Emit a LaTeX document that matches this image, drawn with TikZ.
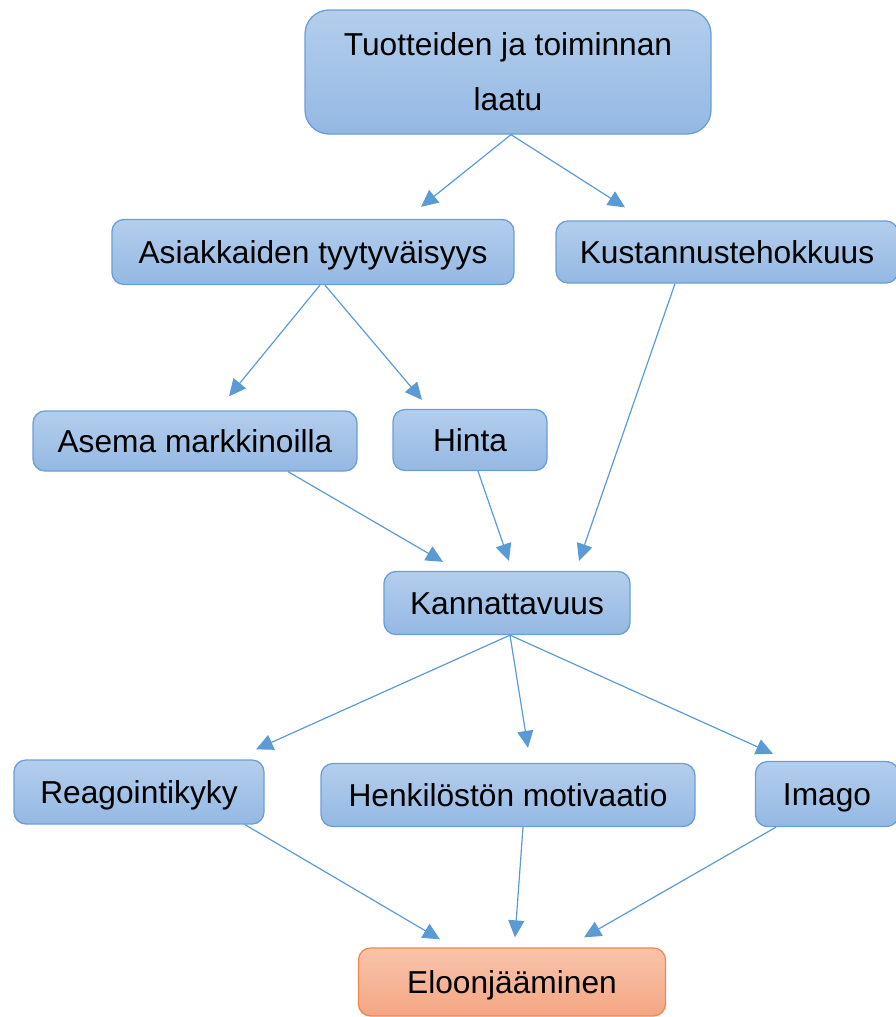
\documentclass[tikz,border=0pt]{standalone}
\usepackage{fontspec}
\setmainfont{Liberation Sans}
\usepackage{tikz}
\usetikzlibrary{arrows.meta}

\definecolor{boxtop}{HTML}{B4CEEC}
\definecolor{boxbot}{HTML}{94B8E3}
\definecolor{boxline}{HTML}{6A9FD6}
\definecolor{arrowblue}{HTML}{5B9BD5}
\definecolor{orangetop}{HTML}{F8C4AC}
\definecolor{orangebot}{HTML}{F4A683}
\definecolor{orangeline}{HTML}{EE8A4C}

\begin{document}
\begin{tikzpicture}[->,
x=1pt, y=-1pt,
>={Triangle[length=17pt, width=16pt]},
block/.style={draw=boxline, line width=1.3pt, rectangle, rounded corners=12pt, top color=boxtop, bottom color=boxbot, inner sep=0pt, align=center, font=\fontsize{31.7}{55}\selectfont},
line/.style={block, text height=22.7pt, text depth=0pt},
orangeblock/.style={line, draw=orangeline, top color=orangetop, bottom color=orangebot},
link/.style={every edge/.style={draw, arrowblue, line width=1.2pt}}]

\useasboundingbox (0,0) rectangle (896,1017);

\node[block, minimum width=406pt, minimum height=124pt, rounded corners=24pt]	(top)	at (508,72)		{Tuotteiden ja toiminnan\\laatu};

\node[line, minimum width=402pt, minimum height=65pt]		(asiak)	at (313,252)	{Asiakkaiden tyytyväisyys};
\node[line, minimum width=342pt, minimum height=62pt]		(kust)	at (727,252)	{Kustannustehokkuus};

\node[line, minimum width=324pt, minimum height=60pt]		(asema)	at (195,441)	{Asema markkinoilla};
\node[line, minimum width=154pt, minimum height=61pt]		(hinta)	at (470,440)	{Hinta};

\node[line, minimum width=246pt, minimum height=63pt]		(kann)	at (507,603)	{Kannattavuus};

\node[line, minimum width=250pt, minimum height=64pt]		(reag)	at (139,792)	{Reagointikyky};
\node[line, minimum width=374pt, minimum height=63pt]		(henk)	at (508,795)	{Henkilöstön motivaatio};
\node[line, minimum width=143pt, minimum height=65pt]		(imago)	at (827,794)	{Imago};

\node[orangeblock, minimum width=307pt, minimum height=68pt]	(eloon)	at (512,982)	{Eloonjääminen};

\path[link]
 ([xshift=3pt]top.south)		edge	([xshift=108pt, yshift=12pt]asiak.north)
 ([xshift=3pt]top.south)		edge	([xshift=-102pt, yshift=13pt]kust.north)

 ([xshift=7pt]asiak.south)		edge	([xshift=34pt, yshift=14pt]asema.north)
 ([xshift=12pt]asiak.south)		edge	([xshift=-48pt, yshift=9pt]hinta.north)

 ([xshift=93pt]asema.south)		edge	([xshift=-64pt, yshift=9pt]kann.north)
 ([xshift=8pt]hinta.south)		edge	([xshift=2pt, yshift=10pt]kann.north)
 ([xshift=-52pt]kust.south)		edge	([xshift=72pt, yshift=10pt]kann.north)

 ([xshift=3pt]kann.south)		edge	([xshift=117pt, yshift=10pt]reag.north)
 ([xshift=3pt]kann.south)		edge	([xshift=20pt, yshift=15pt]henk.north)
 ([xshift=3pt]kann.south)		edge	([xshift=-54pt, yshift=7pt]imago.north)

 ([xshift=106pt]reag.south)		edge	([xshift=-72pt, yshift=8pt]eloon.north)
 ([xshift=15pt]henk.south)		edge	([xshift=3pt, yshift=10pt]eloon.north)
 ([xshift=-51pt]imago.south)	edge	([xshift=72pt, yshift=10pt]eloon.north);

\end{tikzpicture}
\end{document}
